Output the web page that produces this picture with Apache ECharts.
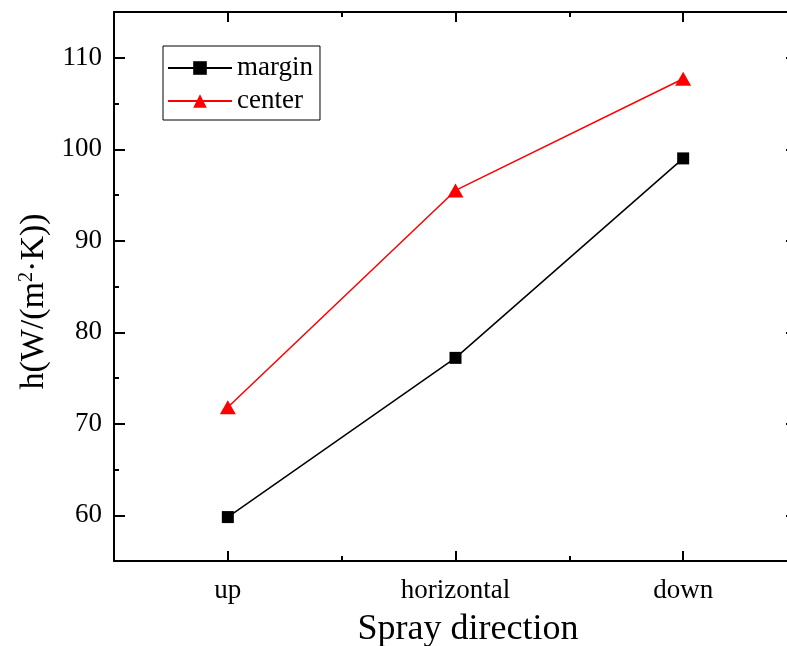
<!DOCTYPE html>
<html>
<head>
<meta charset="utf-8">
<script src="https://cdn.jsdelivr.net/npm/echarts@6/dist/echarts.min.js"></script>
<style>html,body{margin:0;padding:0;background:#fff}#c{width:787px;height:646px}</style>
</head>
<body>
<div id="c"></div>
<script>
const categories = ['up', 'horizontal', 'down'];
const marginValues = [59.8, 77.2, 99.0];
const centerValues = [71.8, 95.5, 107.7];
const yMajorTicks = [60, 70, 80, 90, 100, 110];
const yMin = 55, yMax = 115;

const FONT = 'Liberation Serif';
const black = '#000';
const lineStyle = {color: black, width: 2};

const chart = echarts.init(document.getElementById('c'), null, {renderer: 'canvas'});

function xAx(pos, major, extra) {
  return Object.assign({
    type: 'category', data: categories, position: pos, boundaryGap: true, gridIndex: 0,
    axisLine: {show: major, lineStyle: lineStyle},
    axisTick: {show: true, inside: true, alignWithLabel: major, length: major ? 10 : 5, lineStyle: lineStyle},
    axisLabel: {show: false},
    splitLine: {show: false}
  }, extra || {});
}
function yAx(pos, major, extra) {
  const base = {
    type: 'value', min: yMin, max: yMax, position: pos, gridIndex: 0,
    axisLine: {show: !major, lineStyle: lineStyle},
    axisLabel: {show: false},
    splitLine: {show: false}
  };
  if (major) {
    base.axisTick = {show: true, inside: true, length: 11, lineStyle: lineStyle, customValues: yMajorTicks};
  } else {
    base.interval = 5;
    base.axisTick = {show: true, inside: true, length: 5, lineStyle: lineStyle};
  }
  return Object.assign(base, extra || {});
}

const option = {
  animation: false,
  backgroundColor: '#fff',
  grid: {left: 114, top: 12, width: 683, height: 549, containLabel: false, outerBoundsMode: 'none'},
  legend: {
    orient: 'vertical', left: 163, top: 46,
    borderColor: black, borderWidth: 1, borderRadius: 0,
    padding: [7, 7, 4, 4],
    itemWidth: 64, itemHeight: 17, itemGap: 3,
    textStyle: {fontFamily: FONT, fontSize: 27, color: black, lineHeight: 30},
    data: ['margin', 'center']
  },
  xAxis: [
    xAx('bottom', true, {
      axisLabel: {show: true, fontFamily: FONT, fontSize: 27, color: black, margin: 16},
      name: 'Spray direction', nameLocation: 'middle', nameGap: 51,
      nameTextStyle: {fontFamily: FONT, fontSize: 36, color: black, padding: [0, 0, 0, 25]}
    }),
    xAx('bottom', false),
    xAx('top', true),
    xAx('top', false)
  ],
  yAxis: [
    yAx('left', false),
    yAx('left', true, {
      axisLabel: {show: true, customValues: yMajorTicks, fontFamily: FONT, fontSize: 27, color: black, margin: 12},
      name: 'h(W/(m{sup|2}·K))', nameLocation: 'middle', nameGap: 60, nameRotate: 90,
      nameTextStyle: {fontFamily: FONT, fontSize: 34, color: black, padding: [0, 30, 0, 0],
        rich: {sup: {fontFamily: FONT, fontSize: 20, color: black, verticalAlign: 'top', padding: [0, 0, 14, 0]}}}
    }),
    yAx('right', false),
    yAx('right', true)
  ],
  series: [
    {
      name: 'margin', type: 'line', xAxisIndex: 0, yAxisIndex: 0,
      data: marginValues, symbol: 'rect', symbolSize: 12,
      lineStyle: {color: black, width: 1.5}, itemStyle: {color: black}
    },
    {
      name: 'center', type: 'line', xAxisIndex: 0, yAxisIndex: 0,
      data: centerValues, symbol: 'triangle', symbolSize: [16, 14],
      lineStyle: {color: '#ff0000', width: 1.5}, itemStyle: {color: '#ff0000'}
    }
  ]
};
chart.setOption(option);
</script>
</body>
</html>
